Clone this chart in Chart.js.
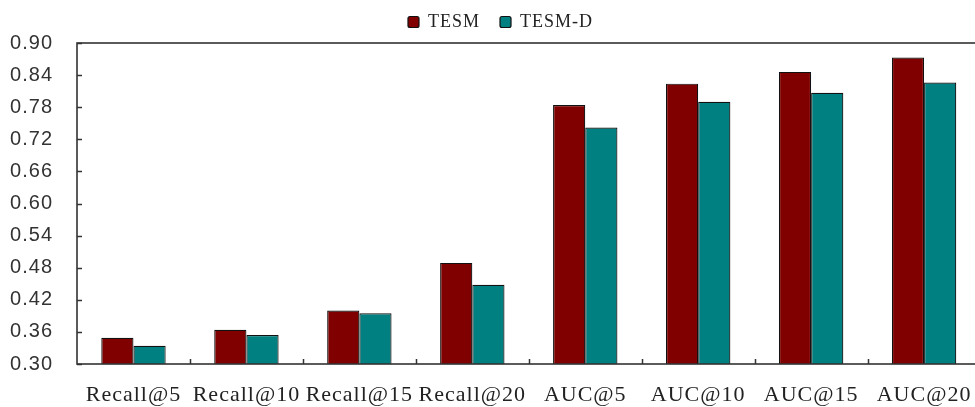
<!DOCTYPE html>
<html>
<head>
<meta charset="utf-8">
<script src="https://cdn.jsdelivr.net/npm/chart.js@4/dist/chart.umd.min.js"></script>
<style>
  html, body { margin: 0; padding: 0; background: #fff; overflow: hidden; }
  #wrap { width: 990px; height: 407px; }
</style>
</head>
<body>
<div id="wrap"><canvas id="c" width="990" height="407"></canvas></div>
<script>
// Metric categories along the x axis
const categories = ['Recall@5', 'Recall@10', 'Recall@15', 'Recall@20', 'AUC@5', 'AUC@10', 'AUC@15', 'AUC@20'];
// Scores per model
const tesm  = [0.349, 0.364, 0.400, 0.489, 0.784, 0.824, 0.846, 0.873];
const tesmD = [0.334, 0.354, 0.395, 0.448, 0.742, 0.790, 0.807, 0.826];
// Y axis tick values
const yTicks = [0.30, 0.36, 0.42, 0.48, 0.54, 0.60, 0.66, 0.72, 0.78, 0.84, 0.90];

const SERIF = "'Liberation Serif', 'Times New Roman', serif";
const SANS = "'Liberation Sans', Arial, sans-serif";

// Slightly wider text tracking for all labels
const tracking = {
  id: 'tracking',
  beforeLayout(chart) { chart.ctx.letterSpacing = '1px'; },
  beforeDraw(chart) { chart.ctx.letterSpacing = '1px'; }
};

// Nudge the legend a little to the right of the canvas centre and up
const legendNudge = {
  id: 'legendNudge',
  afterLayout(chart) {
    const lg = chart.legend;
    if (lg) { lg.left += 10; lg.right += 10; lg.top -= 2; lg.bottom -= 2; }
  }
};

// Frame around the plot plus short inward tick marks on both axes
const frameAndTicks = {
  id: 'frameAndTicks',
  afterDatasetsDraw(chart) {
    const { ctx, chartArea: a, scales } = chart;
    const x = scales.x, y = scales.y;
    ctx.save();
    ctx.strokeStyle = '#333';
    ctx.lineWidth = 1.5;
    ctx.beginPath();
    yTicks.forEach(v => {
      const py = Math.round(y.getPixelForValue(v)) + 0.5;
      ctx.moveTo(a.left, py);
      ctx.lineTo(a.left + 5, py);
    });
    for (let i = 1; i < categories.length; i++) {
      const px = Math.round((x.getPixelForValue(i - 1) + x.getPixelForValue(i)) / 2) + 0.5;
      ctx.moveTo(px, a.bottom);
      ctx.lineTo(px, a.bottom - 5);
    }
    ctx.stroke();
    ctx.lineWidth = 1.6;
    ctx.strokeRect(a.left, a.top, a.right - a.left, a.bottom - a.top);
    ctx.restore();
  }
};

new Chart(document.getElementById('c'), {
  type: 'bar',
  data: {
    labels: categories,
    datasets: [
      { label: 'TESM', data: tesm, backgroundColor: '#800000', borderColor: '#111', borderWidth: 1.2 },
      { label: 'TESM-D', data: tesmD, backgroundColor: '#008080', borderColor: '#111', borderWidth: 1.2 }
    ]
  },
  options: {
    responsive: false,
    animation: false,
    layout: { padding: { left: 0, right: 9, top: -5, bottom: 0 } },
    datasets: { bar: { categoryPercentage: 0.57, barPercentage: 1.0 } },
    plugins: {
      tooltip: { enabled: false },
      legend: {
        position: 'top',
        labels: {
          font: { family: SERIF, size: 18 },
          color: '#222',
          boxWidth: 11,
          boxHeight: 11,
          padding: 20,
          useBorderRadius: true,
          borderRadius: 2
        }
      }
    },
    scales: {
      x: {
        grid: { display: false, drawTicks: false },
        border: { display: false },
        ticks: { font: { family: SERIF, size: 22 }, color: '#222', padding: 18, maxRotation: 0, autoSkip: false },
        afterFit(scale) { scale.height = 43; }
      },
      y: {
        min: 0.30,
        max: 0.90,
        grid: { display: false, drawTicks: false },
        border: { display: false },
        afterBuildTicks(scale) { scale.ticks = yTicks.map(v => ({ value: v })); },
        ticks: {
          font: { family: SANS, size: 20 },
          color: '#333',
          padding: 24,
          callback: v => Number(v).toFixed(2)
        },
        afterFit(scale) { scale.width = 77; }
      }
    }
  },
  plugins: [tracking, legendNudge, frameAndTicks]
});
</script>
</body>
</html>
